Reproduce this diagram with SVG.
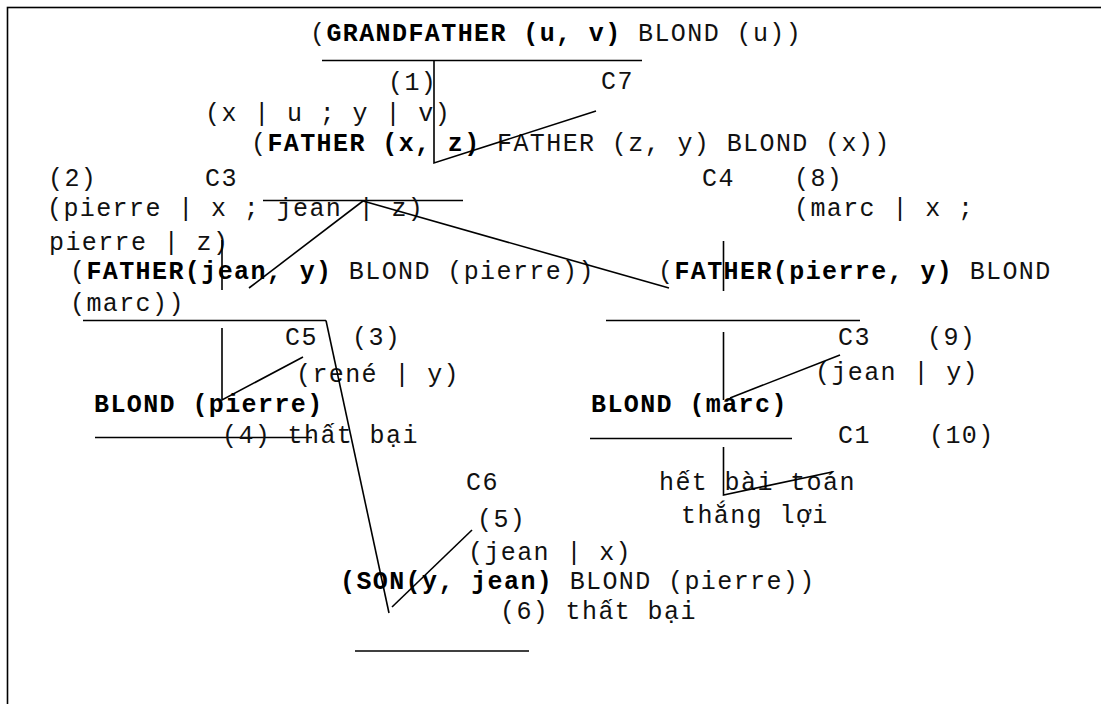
<svg xmlns="http://www.w3.org/2000/svg" width="1101" height="704" viewBox="0 0 1101 704">
<style>
text{font-family:'Liberation Mono','DejaVu Sans Mono',monospace;font-size:25px;letter-spacing:1.4px;fill:#111;white-space:pre}
.b{font-weight:bold;fill:#000}
.ul{stroke:#000;stroke-width:1.6;fill:none}
.c{stroke:#000;stroke-width:1.6;fill:none}
</style>
<rect x="7.5" y="7.5" width="1200" height="800" fill="#fff" stroke="#000" stroke-width="1.6"/>
<g id="n-root">
<text x="310" y="41">(<tspan class="b">GRANDFATHER (u, v)</tspan> BLOND (u))</text>
<line class="ul" x1="322" y1="60.5" x2="642" y2="60.5"/>
</g>
<g id="n-father">
<text x="251" y="151">(<tspan class="b">FATHER (x, z)</tspan> FATHER (z, y) BLOND (x))</text>
<line class="ul" x1="263" y1="200.5" x2="463" y2="200.5"/>
</g>
<g id="n-jean">
<text x="70" y="279">(<tspan class="b">FATHER(jean, y)</tspan> BLOND (pierre))</text>
<text x="70" y="311">(marc))</text>
<line class="ul" x1="83" y1="320.5" x2="326" y2="320.5"/>
</g>
<g id="n-pierre">
<text x="658" y="279">(<tspan class="b">FATHER(pierre, y)</tspan> BLOND</text>
<line class="ul" x1="606" y1="320.5" x2="860" y2="320.5"/>
</g>
<g id="n-blond-pierre">
<text class="b" x="94" y="412">BLOND (pierre)</text>
<line class="ul" x1="95" y1="437.5" x2="312" y2="437.5"/>
</g>
<g id="n-blond-marc">
<text class="b" x="591" y="412">BLOND (marc)</text>
<line class="ul" x1="590" y1="438.5" x2="792" y2="438.5"/>
</g>
<g id="n-son">
<text x="340" y="589"><tspan class="b">(SON(y, jean)</tspan> BLOND (pierre))</text>
<line class="ul" x1="355" y1="651" x2="529" y2="651"/>
</g>
<g id="n-end">
<text x="659" y="490">hết bài toán</text>
<text x="681" y="523">thắng lợi</text>
</g>
<g id="labels">
<text x="388" y="90">(1)</text>
<text x="601" y="89">C7</text>
<text x="205" y="121">(x | u ; y | v)</text>
<text x="48" y="186">(2)</text>
<text x="205" y="186">C3</text>
<text x="702" y="186">C4</text>
<text x="794" y="186">(8)</text>
<text x="47" y="216">(pierre | x ; jean | z)</text>
<text x="794" y="216">(marc | x ;</text>
<text x="49" y="250">pierre | z)</text>
<text x="285" y="345">C5</text>
<text x="352" y="345">(3)</text>
<text x="296" y="382">(rené | y)</text>
<text x="222" y="443">(4) thất bại</text>
<text x="838" y="345">C3</text>
<text x="927" y="345">(9)</text>
<text x="815" y="380">(jean | y)</text>
<text x="838" y="443">C1</text>
<text x="929" y="443">(10)</text>
<text x="466" y="490">C6</text>
<text x="477" y="527">(5)</text>
<text x="468" y="560">(jean | x)</text>
<text x="500" y="619">(6) thất bại</text>
</g>
<g id="connectors">
<polyline class="c" points="434,60.5 434,163 596,111"/>
<line class="c" x1="363" y1="201" x2="249" y2="288"/>
<line class="c" x1="363" y1="201" x2="669" y2="288"/>
<line class="c" x1="222" y1="240" x2="222" y2="290"/>
<line class="c" x1="723.5" y1="241" x2="723.5" y2="291"/>
<line class="c" x1="326" y1="320.5" x2="389" y2="613"/>
<polyline class="c" points="222,328 222,400 303,357"/>
<line class="c" x1="723.5" y1="332" x2="723.5" y2="400"/>
<line class="c" x1="730" y1="398" x2="840" y2="355"/>
<polyline class="c" points="723.5,447 723.5,495 832,472"/>
<line class="c" x1="392" y1="607" x2="472" y2="530"/>
</g>
</svg>
